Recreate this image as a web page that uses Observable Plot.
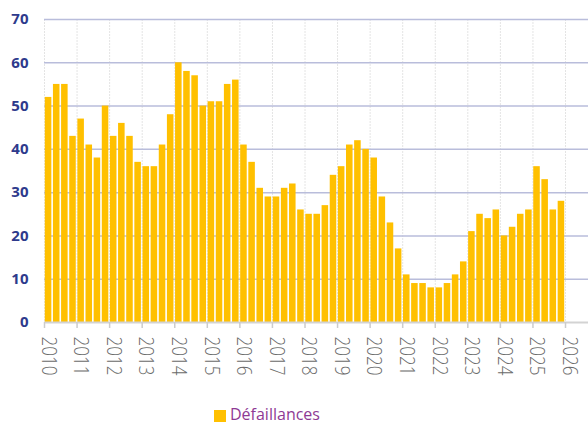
<!DOCTYPE html>
<html><head><meta charset="utf-8">
<script src="https://cdn.jsdelivr.net/npm/d3@7"></script>
<script src="https://cdn.jsdelivr.net/npm/@observablehq/plot@0.6"></script>
<style>
body{margin:0;background:#fff;}
#chart{position:relative;width:588px;height:424px;overflow:hidden;}
.legend{position:absolute;left:214px;top:404px;font-family:"Open Sans",sans-serif;font-size:16px;line-height:20px;color:#8e3a94;display:flex;align-items:center;}
.sw{width:12px;height:12px;background:#FFC000;margin-right:4px;margin-top:3px;}
</style></head><body><div id="chart"></div>
<script>
const startYear = 2010;
const seriesName = "Défaillances";
const defaillances = [52,55,55,43, 47,41,38,50, 43,46,43,37, 36,36,41,48,
  60,58,57,50, 51,51,55,56, 41,37,31,29, 29,31,32,26,
  25,25,27,34, 36,41,42,40, 38,29,23,17, 11,9,9,8,
  8,9,11,14, 21,25,24,26, 20,22,25,26, 36,33,26,28];
const yearTicks = [2010,2011,2012,2013,2014,2015,2016,2017,2018,2019,2020,2021,2022,2023,2024,2025,2026];
const yTicks = [0,10,20,30,40,50,60,70];

const data = defaillances.map((v, i) => ({t: startYear + i / 4, v}));

const plot = Plot.plot({
  width: 588,
  height: 404,
  marginLeft: 44,
  marginRight: 0,
  marginTop: 19,
  marginBottom: 82,
  style: {fontFamily: "'Open Sans', sans-serif", background: "#fff"},
  x: {domain: [2010, 2026.706]},
  y: {domain: [0, 70]},
  marks: [
    Plot.ruleX(yearTicks, {stroke: "#e4e4e4", strokeDasharray: "2,1", strokeWidth: 1}),
    Plot.ruleY(yTicks.filter(d => d > 0), {stroke: "#b9bddb", strokeWidth: 1.5}),
    Plot.rectY(data, {x1: "t", x2: d => d.t + 0.25, y: "v", fill: "#FFC000", insetLeft: 0.8, insetRight: 0.8}),
    Plot.ruleY([0], {stroke: "#d3d3d3", strokeWidth: 2}),
    Plot.axisX({ticks: yearTicks, tickFormat: () => "", tickSize: 6, stroke: "#cccccc", strokeWidth: 1.5, label: null}),
    Plot.axisX({ticks: yearTicks, tickFormat: d => String(d), tickRotate: 90, tickSize: 0, tickPadding: 14,
      fill: "#6b6b6b", fontSize: 21, fontWeight: 300, dx: 4, label: null}),
    Plot.axisY({ticks: yTicks, tickSize: 0, tickPadding: 16, fontWeight: "bold", fill: "#2e3a8c", fontSize: 15, label: null})
  ]
});
plot.querySelectorAll('g[aria-label="x-axis tick label"] text').forEach(t => {
  t.setAttribute("textLength", 39);
  t.setAttribute("lengthAdjust", "spacingAndGlyphs");
});
const chart = document.getElementById("chart");
chart.appendChild(plot);
const lg = document.createElement("div");
lg.className = "legend";
lg.innerHTML = '<span class="sw"></span><span>' + seriesName + '</span>';
chart.appendChild(lg);
</script></body></html>
